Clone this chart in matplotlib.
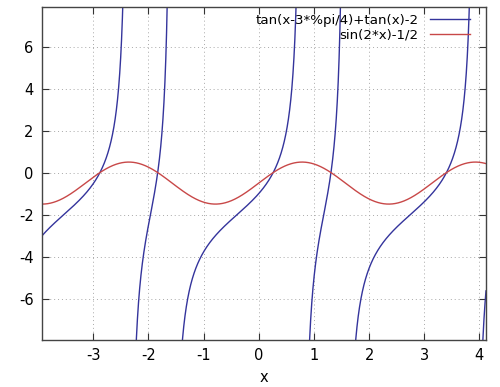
import numpy as np
import matplotlib
matplotlib.use("Agg")
import matplotlib.pyplot as plt

plt.rcParams["axes.unicode_minus"] = False

# Plot domain and sampling (functions are given by the legend formulas)
x_range = [-3.93, 4.12]
y_range = [-7.97, 7.89]
x_ticks = [-3, -2, -1, 0, 1, 2, 3, 4]
y_ticks = [-6, -4, -2, 0, 2, 4, 6]
labels = ["tan(x-3*%pi/4)+tan(x)-2", "sin(2*x)-1/2"]
colors = ["#34349c", "#c84848"]

x = np.linspace(x_range[0], x_range[1], 8000)
y1 = np.tan(x - 3 * np.pi / 4) + np.tan(x) - 2
y2 = np.sin(2 * x) - 0.5
# break at asymptotes
jump = np.abs(np.diff(y1)) > 50
y1 = y1.copy()
y1[1:][jump] = np.nan

fig = plt.figure(figsize=(5.0, 3.87), dpi=100)
ax = fig.add_axes([0.084, 0.1214, 0.888, 0.861])
ax.plot(x, y1, color=colors[0], lw=1.0, label=labels[0])
ax.plot(x, y2, color=colors[1], lw=1.0, label=labels[1])
ax.set_xlim(x_range)
ax.set_ylim(y_range)
ax.set_xticks(x_ticks)
ax.set_yticks(y_ticks)
ax.tick_params(direction="in", top=True, right=True, labelsize=10.5, length=5, width=0.8,
               color="#333333", pad=6)
ax.grid(True, linestyle=(0, (1, 3)), color="#a8a8a8", lw=0.7)
for s in ax.spines.values():
    s.set_color("#444444")
    s.set_linewidth(1.0)
ax.set_xlabel("x", fontsize=10.5)
ax.xaxis.labelpad = 5
leg = ax.legend(loc="upper right", frameon=False, markerfirst=False, fontsize=9.6,
                handlelength=3.0, handletextpad=0.8, borderaxespad=0.0,
                labelspacing=0.15, bbox_to_anchor=(0.975, 0.995))
for t in leg.get_texts():
    t.set_ha("right")
fig.savefig("out.png", dpi=100)
